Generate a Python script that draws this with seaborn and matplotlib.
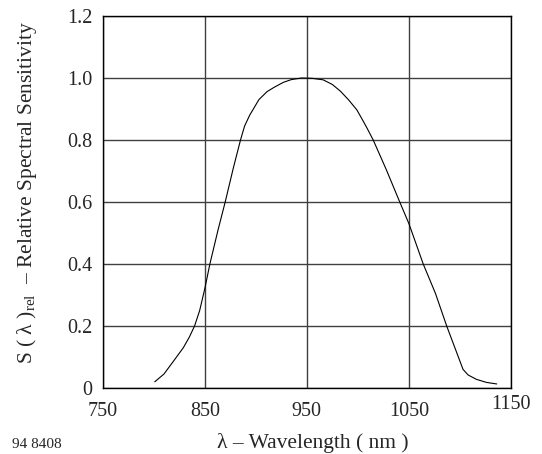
import pandas as pd
import matplotlib
matplotlib.use("Agg")
import matplotlib.pyplot as plt
from matplotlib.transforms import ScaledTranslation
import seaborn as sns

# wavelength (nm) vs relative spectral sensitivity
wavelength = [801, 810, 819, 829, 835, 840, 845, 850, 855, 863, 870, 878, 885,
              889, 894, 903, 911, 918, 927, 935, 945, 955, 966, 975, 983, 991,
              999, 1004, 1009, 1015, 1028, 1041, 1050, 1057, 1064, 1076, 1087,
              1095, 1103, 1108, 1116, 1126, 1136]
sensitivity = [0.020, 0.045, 0.085, 0.130, 0.165, 0.20, 0.25, 0.32, 0.40, 0.51,
               0.60, 0.71, 0.80, 0.845, 0.88, 0.93, 0.956, 0.970, 0.986, 0.995,
               1.0, 0.999, 0.994, 0.979, 0.957, 0.929, 0.897, 0.868, 0.838, 0.80,
               0.703, 0.60, 0.53, 0.465, 0.40, 0.305, 0.20, 0.13, 0.060, 0.042,
               0.028, 0.018, 0.013]

x_ticks = [750, 850, 950, 1050, 1150]
y_ticks = [0, 0.2, 0.4, 0.6, 0.8, 1.0, 1.2]
y_tick_labels = ["0", "0.2", "0.4", "0.6", "0.8", "1.0", "1.2"]

df = pd.DataFrame({"wavelength": wavelength, "sensitivity": sensitivity})

sns.set_style("white")
plt.rcParams["font.family"] = ["Liberation Serif", "DejaVu Serif"]
plt.rcParams["mathtext.fontset"] = "custom"
plt.rcParams["mathtext.rm"] = "Liberation Serif"

fig = plt.figure(figsize=(5.42, 4.54), dpi=100)
ax = fig.add_axes([0.1895, 0.1454, 0.7533, 0.8194])

sns.lineplot(data=df, x="wavelength", y="sensitivity", ax=ax, color="black",
             linewidth=0.8)

ax.set_xlim(750, 1150)
ax.set_ylim(0, 1.2)
ax.set_xticks(x_ticks)
ax.set_yticks(y_ticks)
ax.set_yticklabels(y_tick_labels)
ax.tick_params(length=0, labelsize=14.5)
ax.tick_params(axis="x", pad=10)
ax.tick_params(axis="y", pad=7.5)
ax.grid(True, color="#404040", linewidth=1.0)
ax.set_axisbelow(True)
for s in ax.spines.values():
    s.set_color("black")
    s.set_linewidth(1.0)
ax.set_xlabel("")
ax.set_ylabel("")

# the last x label sits a little higher in the original
last = ax.get_xticklabels()[-1]
last.set_transform(last.get_transform() + ScaledTranslation(0, 5 / 72, fig.dpi_scale_trans))

fig.text(0.5775, 0.013, "λ – Wavelength ( nm )", fontsize=15.5,
         ha="center", va="baseline")
fig.text(0.05, 0.577, "S ( λ )$_{\\mathrm{rel}}$  – Relative Spectral Sensitivity",
         fontsize=15.5, rotation=90, ha="center", va="center")
fig.text(0.022, 0.013, "94 8408", fontsize=11, va="baseline")

fig.savefig("out.png", dpi=100)
